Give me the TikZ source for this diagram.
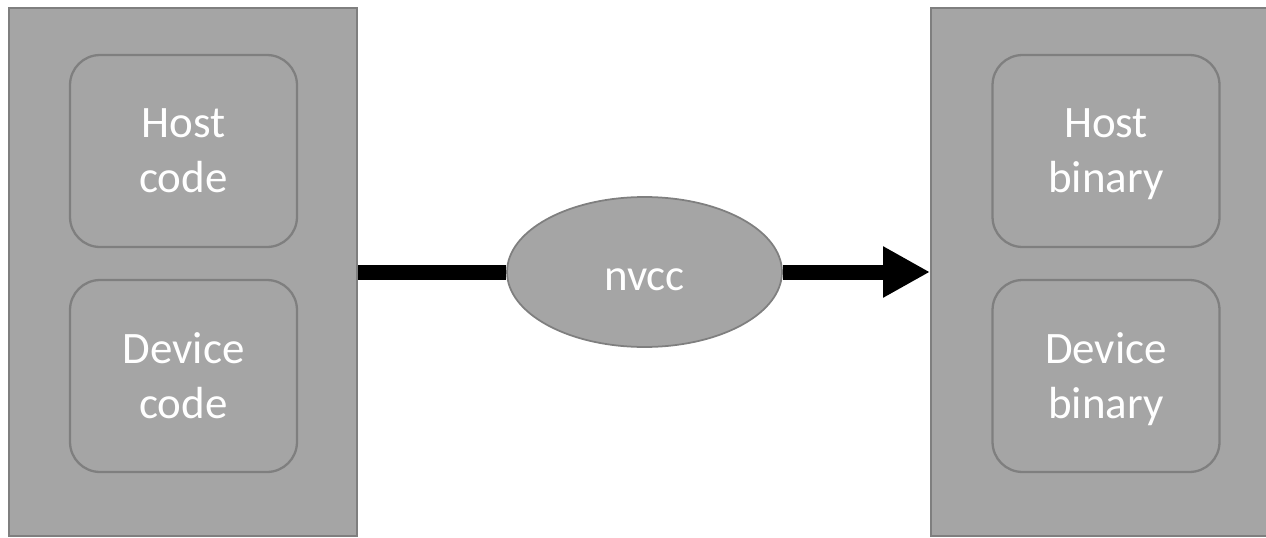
\documentclass[tikz,border=0pt]{standalone}
\usepackage{fontspec}
\setmainfont{Carlito}
\usetikzlibrary{arrows.meta}
\usetikzlibrary{shapes.geometric}
\definecolor{boxfill}{HTML}{A5A5A5}
\definecolor{boxline}{HTML}{7F7F7F}
\tikzstyle{panel} = [draw=boxline, fill=boxfill, line width=1.2pt, minimum width=6.96cm, minimum height=10.56cm, inner sep=0]
\tikzstyle{part} = [draw=boxline, fill=boxfill, line width=1.3pt, rounded corners=0.6cm, minimum width=4.54cm, minimum height=3.84cm, align=center, text depth=0pt, text=white, font=\fontsize{25.6}{31.3}\selectfont]
\tikzstyle{tool} = [ellipse, draw=boxline, fill=boxfill, line width=1pt, minimum width=5.5cm, minimum height=3cm, inner sep=0, text height=0.72cm, text depth=0pt, text=white, font=\fontsize{25.6}{31.3}\selectfont]
\tikzstyle{flow} = [line width=0.3cm, black]
\tikzstyle{flow arrow} = [flow, -{Triangle[length=0.94cm, width=0.96cm]}]

\begin{document}
\begin{tikzpicture}[x=0.02cm, y=-0.02cm]
	\useasboundingbox (0,0) rectangle (1266,537);
	\clip (0,0) rectangle (1266,537);

	\node (src) at(183,272) [panel] {};
	\node (dst) at(1135,272) [panel, minimum width=8.16cm] {};

	\node (hostcode) at(183.5,151) [part] {Host\\code};
	\node (devcode)  at(183.5,376) [part] {Device\\code};
	\node (hostbin)  at(1106,151)  [part] {Host\\binary};
	\node (devbin)   at(1106,376)  [part] {Device\\binary};

	\node (nvcc) at(644.5,272) [tool] {nvcc};

	\draw[flow] (src.east) -- (nvcc);
	\draw[flow arrow] (nvcc) -- (dst.west);
\end{tikzpicture}
\end{document}
